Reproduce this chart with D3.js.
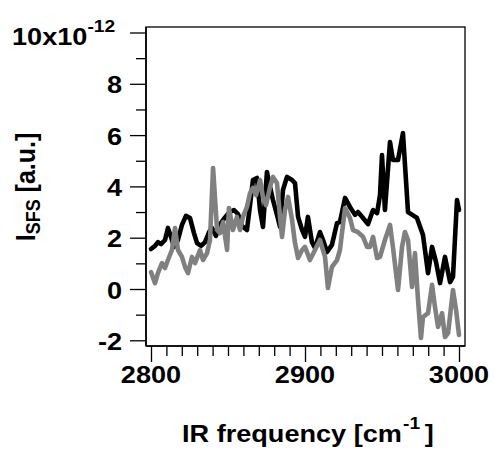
<!DOCTYPE html>
<html>
<head>
<meta charset="utf-8">
<script src="https://cdn.jsdelivr.net/npm/d3@7"></script>
<style>
  html, body { margin: 0; padding: 0; background: #fff; }
  svg { display: block; }
  text { font-family: "Liberation Sans", Arial, sans-serif; font-weight: bold; fill: #000; }
</style>
</head>
<body>
<svg id="chart" width="494" height="449"></svg>
<script>
// ---- data ----
const blackX = [2800,2802.6,2804.5,2806.5,2809.1,2811.0,2813.0,2814.9,2817.5,2820.1,2822.7,2825.3,2827.9,2829.9,2832.5,2835.1,2837.7,2839.6,2842.2,2844.2,2846.8,2849.4,2851.3,2853.9,2856.5,2859.1,2862.3,2864.3,2866.2,2868.8,2870.8,2872.7,2875.3,2877.3,2879.2,2881.8,2883.8,2885.7,2888.3,2891.6,2893.5,2895.5,2898.1,2900.0,2901.9,2904.5,2906.5,2909.7,2911.7,2914.3,2917.5,2920.8,2922.7,2926.0,2929.2,2932.5,2934.4,2937.7,2940.9,2944.2,2946.8,2948.7,2950.0,2951.9,2955.2,2957.1,2960.4,2963.6,2966.9,2972.7,2976.6,2979.9,2982.5,2985.1,2987.7,2990.9,2994.2,2996.1,2998.7,3000.0];
const blackY = [1.56,1.68,1.83,1.75,1.91,2.38,2.03,1.64,1.91,2.50,2.85,2.77,2.18,1.79,1.68,1.83,2.22,2.38,2.07,2.46,2.69,2.89,3.00,3.08,2.92,2.46,2.30,3.27,4.25,4.33,3.08,2.42,4.56,3.98,3.47,2.89,2.42,3.86,4.37,4.25,4.13,2.81,2.30,2.03,2.81,1.83,1.60,2.22,1.91,1.44,1.72,2.57,2.61,3.55,3.20,2.89,3.00,2.77,2.53,3.08,2.96,3.66,5.22,3.08,5.73,5.03,5.03,6.08,3.00,2.77,2.11,0.62,1.64,1.05,0.23,1.25,0.27,0.47,3.47,3.08];
const grayX = [2800,2802.6,2804.5,2807.1,2809.1,2811.0,2813.6,2815.6,2817.5,2820.1,2822.1,2824.0,2826.6,2828.6,2831.8,2833.8,2836.4,2838.3,2840.3,2842.9,2844.8,2846.8,2849.4,2850.6,2853.2,2855.8,2857.8,2859.7,2862.3,2864.3,2866.2,2868.2,2870.8,2872.7,2874.7,2877.3,2879.2,2881.8,2883.8,2885.1,2887.0,2889.0,2891.6,2893.5,2895.5,2898.1,2900.0,2903.2,2906.5,2909.7,2913.0,2914.9,2917.5,2920.8,2922.7,2926.0,2929.2,2931.2,2934.4,2937.7,2940.3,2942.2,2944.2,2946.8,2948.7,2951.9,2955.2,2957.1,2960.4,2963.0,2964.9,2966.9,2969.5,2971.4,2973.4,2975.3,2976.6,2979.9,2982.5,2984.4,2986.4,2989.0,2990.9,2992.9,2996.1,2998.1,3000.0];
const grayY = [0.66,0.23,0.62,1.01,0.82,1.13,1.52,2.38,1.52,1.25,0.86,0.62,1.25,1.01,1.52,1.13,1.40,1.91,4.72,2.30,2.18,2.61,1.52,3.16,2.30,2.81,2.30,2.81,3.20,3.74,3.94,3.66,4.25,3.59,3.27,3.98,4.37,4.13,2.81,2.03,3.08,3.59,2.69,1.79,1.21,1.52,1.64,1.13,1.52,1.91,1.25,0.04,0.86,1.13,1.52,3.16,2.77,2.30,2.22,2.03,1.64,1.64,2.03,1.21,1.25,1.91,2.50,1.64,-0.04,1.64,2.22,1.91,0.08,1.40,-0.43,-1.91,-1.09,-0.94,0.16,-0.70,-1.48,-0.94,-1.87,-1.72,-0.04,-0.82,-1.79];

const xMajorTicks = [2800, 2900, 3000];
const xMajorLabels = ["2800", "2900", "3000"];
const yMajorTicks = [-2, 0, 2, 4, 6, 8];
const yMajorLabels = ["-2", "0", "2", "4", "6", "8"];
const yTopTick = 10;
const yTopLabel = "10x10";
const yTopExponent = "-12";
const xTitle = "IR frequency [cm";
const xTitleSup = "-1";
const yTitleMain = "I";
const yTitleSub = "SFS";
const yTitleRest = " [a.u.]";

// ---- layout ----
const frame = { left: 146, right: 465, top: 27, bottom: 346 };
const stretch = 1.13;

const svg = d3.select("#chart");

const x = d3.scaleLinear().domain([2800, 3000]).range([151, 459]);
const y = d3.scaleLinear().domain([-2, 10]).range([340.3, 32.5]);

// frame (top/right)
svg.append("rect")
  .attr("x", frame.left).attr("y", frame.top)
  .attr("width", frame.right - frame.left).attr("height", frame.bottom - frame.top)
  .attr("fill", "none").attr("stroke", "#000").attr("stroke-width", 1.3);

// lines
const line = d3.line().x(d => x(d[0])).y(d => y(d[1])).curve(d3.curveLinear);
const blackData = d3.zip(blackX, blackY);
const grayData = d3.zip(grayX, grayY);

svg.append("path").datum(blackData)
  .attr("d", line).attr("fill", "none").attr("stroke", "#000")
  .attr("stroke-width", 4.6).attr("stroke-linejoin", "round").attr("stroke-linecap", "round");
svg.append("path").datum(grayData)
  .attr("d", line).attr("fill", "none").attr("stroke", "#808080")
  .attr("stroke-width", 4.6).attr("stroke-linejoin", "round").attr("stroke-linecap", "round");

// axes ticks
const xMinor = d3.range(2800, 3001, 10).filter(v => v % 100 !== 0);
const yMinor = [-1, 1, 3, 5, 7, 9];

function styleAxis(g) {
  g.select(".domain").remove();
  g.selectAll("line").attr("stroke", "#000").attr("stroke-width", 1.3);
  g.selectAll("text").remove();
}

svg.append("g").attr("transform", `translate(0,${frame.bottom})`)
  .call(d3.axisBottom(x).tickValues(xMajorTicks).tickSize(16).tickFormat(""))
  .call(styleAxis);
svg.append("g").attr("transform", `translate(0,${frame.bottom})`)
  .call(d3.axisBottom(x).tickValues(xMinor).tickSize(10).tickFormat(""))
  .call(styleAxis);
svg.append("g").attr("transform", `translate(${frame.left},0)`)
  .call(d3.axisLeft(y).tickValues(yMajorTicks.concat([yTopTick])).tickSize(16).tickFormat(""))
  .call(styleAxis);
svg.append("g").attr("transform", `translate(${frame.left},0)`)
  .call(d3.axisLeft(y).tickValues(yMinor).tickSize(10).tickFormat(""))
  .call(styleAxis);

// axis lines (left, bottom) slightly heavier
svg.append("line").attr("x1", frame.left).attr("x2", frame.left)
  .attr("y1", frame.top).attr("y2", frame.bottom).attr("stroke", "#000").attr("stroke-width", 1.6);
svg.append("line").attr("x1", frame.left).attr("x2", frame.right)
  .attr("y1", frame.bottom).attr("y2", frame.bottom).attr("stroke", "#000").attr("stroke-width", 1.6);

// x tick labels
svg.selectAll("text.xl").data(xMajorTicks).enter().append("text")
  .attr("class", "xl")
  .attr("transform", d => `translate(${x(d)},383) scale(${stretch},1)`)
  .attr("text-anchor", "middle").attr("font-size", 24)
  .text((d, i) => xMajorLabels[i]);

// y tick labels
svg.selectAll("text.yl").data(yMajorTicks).enter().append("text")
  .attr("class", "yl")
  .attr("transform", d => `translate(122,${y(d) + 9.5}) scale(${stretch},1)`)
  .attr("text-anchor", "end").attr("font-size", 24)
  .text((d, i) => yMajorLabels[i]);

// top label with exponent
const topT = svg.append("text")
  .attr("transform", `translate(12,${y(yTopTick) + 12.5}) scale(${stretch},1)`)
  .attr("font-size", 24);
topT.append("tspan").text(yTopLabel);
topT.append("tspan").attr("font-size", 17).attr("dy", -13).text(yTopExponent);

// x title
const xt = svg.append("text")
  .attr("transform", `translate(182,442) scale(${stretch},1)`)
  .attr("font-size", 24);
xt.append("tspan").text(xTitle);
xt.append("tspan").attr("font-size", 17).attr("dy", -13).attr("dx", 1).text(xTitleSup);
xt.append("tspan").attr("dy", 13).attr("dx", 4).text("]");

// y title
const yt = svg.append("text")
  .attr("transform", `translate(35,187) scale(${stretch},1) rotate(-90)`)
  .attr("text-anchor", "middle").attr("font-size", 25);
yt.append("tspan").text(yTitleMain);
yt.append("tspan").attr("font-size", 18).attr("dy", 4).text(yTitleSub);
yt.append("tspan").attr("dy", -4).text(yTitleRest);
</script>
</body>
</html>
